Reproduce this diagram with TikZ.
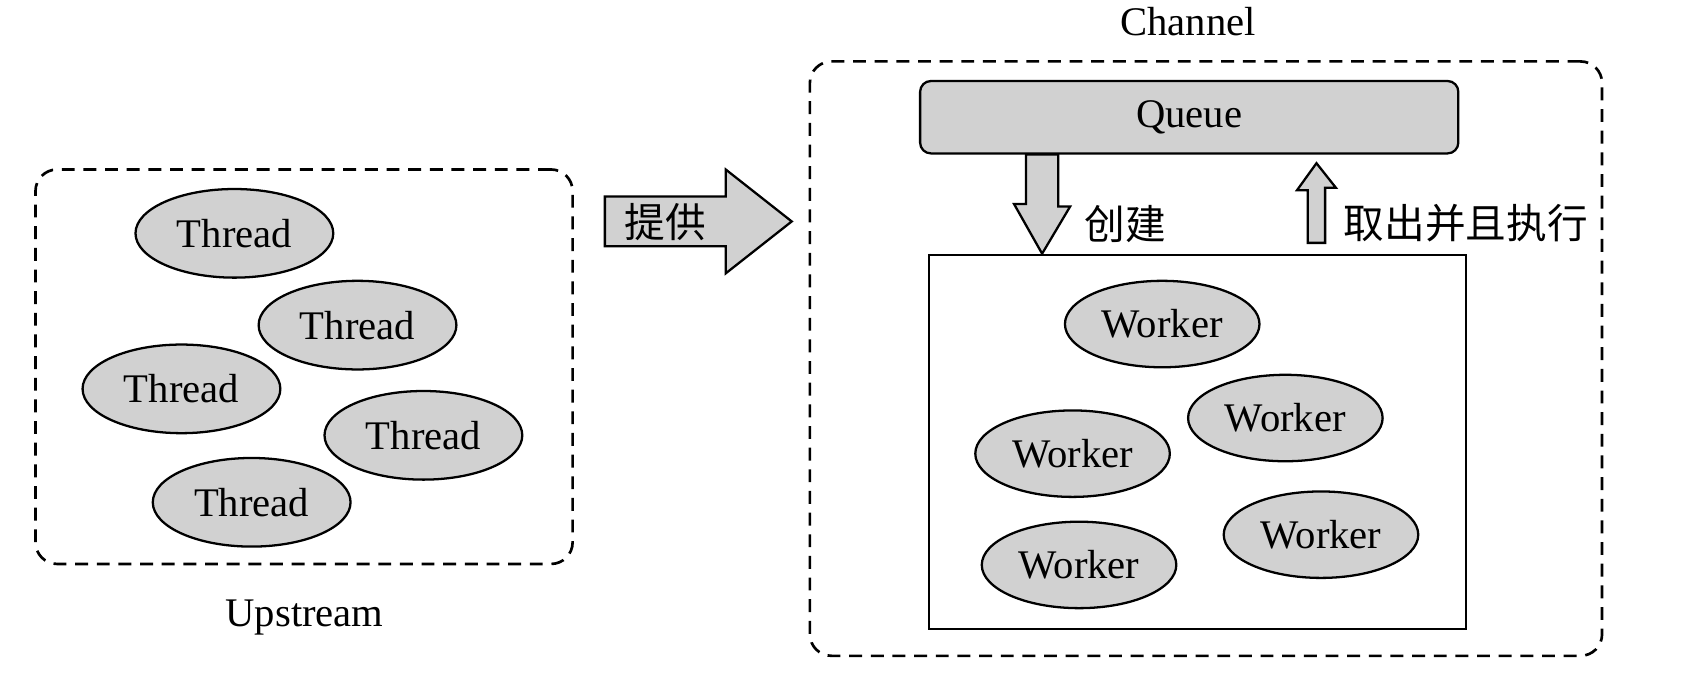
\documentclass[tikz,border=0pt]{standalone}
\usepackage{fontspec}
\setmainfont{Liberation Serif}
\newfontfamily\cjk{Noto Sans CJK SC}
\usetikzlibrary{calc,positioning,shapes.geometric}

\begin{document}
\begin{tikzpicture}[
  x=0.01cm, y=-0.01cm,
  font=\fontsize{10.7}{12}\selectfont,
  bubble/.style={ellipse,draw,line width=.6pt,fill=black!18,minimum width=1.83cm,minimum height=.82cm,inner sep=0pt},
  dashbox/.style={rectangle,draw,line width=.7pt,dash pattern=on 3.4pt off 2.3pt,rounded corners=.2cm,inner sep=0pt},
  blockarrow/.style={draw,line width=.6pt,fill=black!18,line join=miter},
  ]

  \useasboundingbox (0,0) rectangle (1560,632);

  % upstream side
  \node (upstream_box) [dashbox,minimum width=4.97cm,minimum height=3.65cm] at (281.5,339.5) {};
  \node (upstream_label) at (282,572) {Upstream};

  \foreach \i/\x/\y in {1/217/216,2/331/301,3/168/360,4/392/403,5/233/465}
  {
    \node (thread_\i) [bubble] at (\x,\y) {Thread};
  }

  % channel side
  \node (channel_box) [dashbox,minimum width=7.33cm,minimum height=5.5cm] at (1116.5,332) {};
  \node (channel_label) at (1100,20) {Channel};

  \node (queue) [rectangle,draw,line width=.6pt,fill=black!18,rounded corners=.1cm,minimum width=4.98cm,minimum height=.67cm] at (1101,108.5) {Queue};
  \node (pool) [rectangle,draw,line width=.6pt,minimum width=4.97cm,minimum height=3.46cm] at (1108.5,409) {};

  \foreach \i/\x/\y in {1/1076/300,2/1190/387,3/993/420,4/1223/495,5/999/523}
  {
    \node (worker_\i) [bubble,minimum width=1.8cm,minimum height=.8cm] at (\x,\y) {Worker};
  }

  % block arrows
  \coordinate (give_tail) at (560,205);
  \coordinate (give_tip) at (733,205);
  \draw[blockarrow] (give_tail) ++(0,-23) -- ++(112,0) -- ++(0,-25) -- (give_tip) -- ++(-61,48) -- ++(0,-25) -- ++(-112,0) -- cycle;
  \node (give_label) at (616,206) {\cjk 提供};

  \coordinate (make_top) at ($(queue.south west)+(114,0)$);
  \coordinate (make_tip) at (pool.north -| make_top);
  \draw[blockarrow] (make_top) ++(-15,0) -- ++(30,0) -- ++(0,48) -- ++(11,0) -- (make_tip) -- ++(-26,-46) -- ++(11,0) -- cycle;
  \node (make_label) at (1042,207) {\cjk 创建};

  \coordinate (take_base) at ($(pool.north west)+(360,-10)$);
  \coordinate (take_tip) at ($(queue.south west)+(368,8)$);
  \draw[blockarrow] (take_base) ++(-8,0) -- ++(16,0) -- ++(0,-51) -- ++(10,0) -- (take_tip) -- ++(-18,25) -- ++(10,0) -- cycle;
  \node (take_label) at (1357,207) {\cjk 取出并且执行};

\end{tikzpicture}
\end{document}
